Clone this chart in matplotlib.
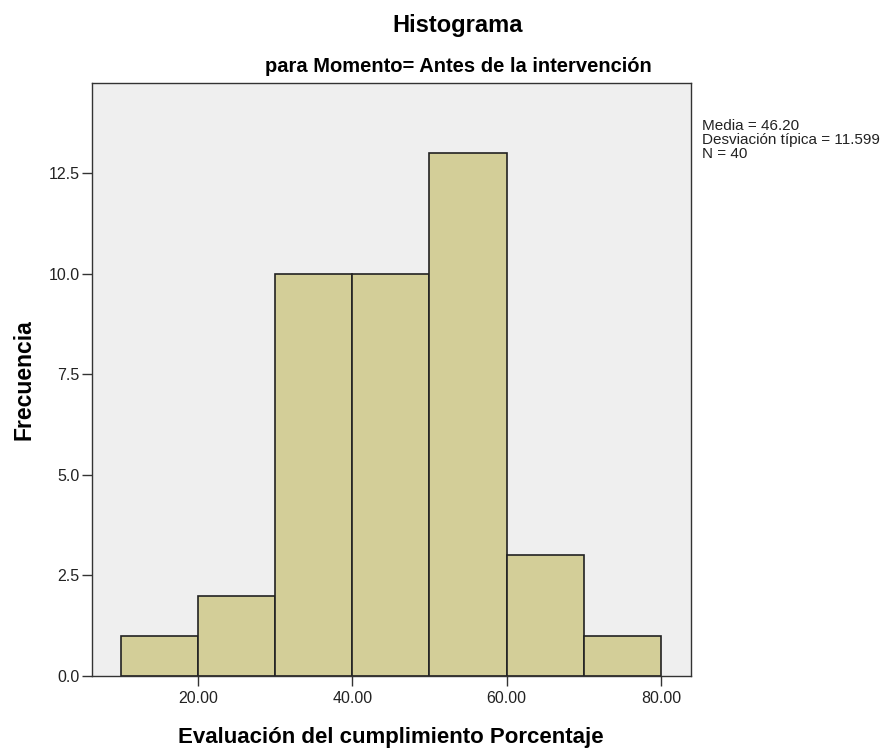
import numpy as np
import matplotlib.pyplot as plt

plt.rcParams['font.family'] = ['Liberation Sans', 'DejaVu Sans']

# bins of the histogram and the counts
bin_edges = [10, 20, 30, 40, 50, 60, 70, 80]
counts = [1, 2, 10, 10, 13, 3, 1]

xticks = [20, 40, 60, 80]
yticks = [0, 2.5, 5.0, 7.5, 10.0, 12.5]

stats_lines = ["Media = 46.20", "Desviación típica = 11.599", "N = 40"]

W, H = 894, 751
fig = plt.figure(figsize=(W / 100, H / 100), dpi=100)
# frame 92..691 px across, 83..676 px down
ax = fig.add_axes([92 / W, 1 - 676 / H, (691 - 92) / W, (676 - 83) / H])
ax.set_facecolor('#efefef')

widths = np.diff(bin_edges)
ax.bar(bin_edges[:-1], counts, width=widths, align='edge',
       color='#d3ce98', edgecolor='#222222', linewidth=1.2)

ax.set_xlim(6.27, 83.9)
ax.set_ylim(0, 14.75)
ax.set_xticks(xticks)
ax.set_xticklabels([f"{v:.2f}" for v in xticks])
ax.set_yticks(yticks)
ax.set_yticklabels([f"{v:.1f}" for v in yticks])
ax.tick_params(axis='both', labelsize=11.5, length=7.5, width=1, color='#333333', labelcolor='#222222')
ax.tick_params(axis='y', pad=1.5)
ax.tick_params(axis='x', pad=3)
for s in ax.spines.values():
    s.set_color('#333333')
    s.set_linewidth(1)


def px(x, y):
    return x / W, 1 - y / H


fig.text(*px(458, 32), "Histograma", ha='center', va='baseline', fontsize=17, fontweight='bold')
fig.text(*px(458, 72), "para Momento= Antes de la intervención", ha='center', va='baseline',
         fontsize=14.5, fontweight='bold')

fig.text(*px(391, 743), "Evaluación del cumplimiento Porcentaje", ha='center', va='baseline',
         fontsize=16, fontweight='bold')
fig.text(*px(24, 380), "Frecuencia", ha='center', va='center', rotation=90,
         fontsize=16.5, fontweight='bold')

for i, line in enumerate(stats_lines):
    fig.text(*px(702, 130 + 14 * i), line, ha='left', va='baseline', fontsize=11, color='#222222')

fig.savefig("out.png", dpi=100)
